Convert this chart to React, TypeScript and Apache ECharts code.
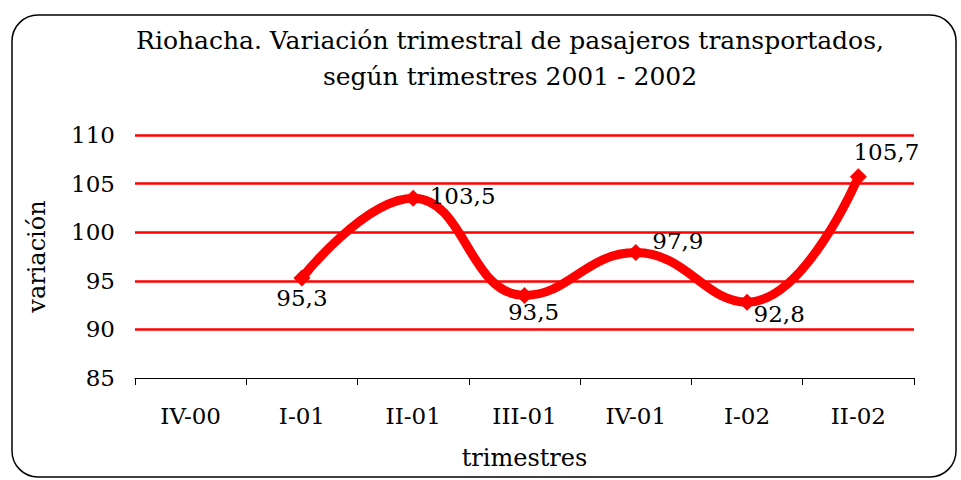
import React, { useEffect, useRef } from "react";
import * as echarts from "echarts";

const categories = ["IV-00", "I-01", "II-01", "III-01", "IV-01", "I-02", "II-02"];
const values: (number | null)[] = [null, 95.3, 103.5, 93.5, 97.9, 92.8, 105.7];
const labelPositions = ["bottom", "bottom", "right", "bottom", "right", "right", "top"];
const labelOffsets: number[][] = [[0, 0], [0, -4], [4, -2], [9, -7], [4, -12], [-6, 12], [28, -1]];
const yTicks = { min: 85, max: 110, interval: 5 };

const FONT = "'DejaVu Serif', serif";

export default function App() {
  const ref = useRef<HTMLDivElement>(null);
  useEffect(() => {
    if (!ref.current) return;
    const chart = echarts.init(ref.current, undefined, { renderer: "svg" });
    chart.setOption({
      animation: false,
      backgroundColor: "#ffffff",
      graphic: [
        {
          type: "rect",
          shape: { x: 12, y: 15, width: 944, height: 462, r: 26 },
          style: { fill: "none", stroke: "#000", lineWidth: 1.5 },
          silent: true,
        },
      ],
      title: {
        text: "Riohacha. Variación trimestral de pasajeros transportados,\nsegún trimestres 2001 - 2002",
        left: 505,
        textAlign: "center",
        top: 17,
        textStyle: { fontFamily: FONT, fontWeight: "normal", fontSize: 25, color: "#000", lineHeight: 36 },
      },
      grid: { left: 135, right: 47, top: 135, bottom: 102 },
      xAxis: {
        type: "category",
        data: categories,
        boundaryGap: true,
        name: "trimestres",
        nameLocation: "middle",
        nameGap: 68,
        nameTextStyle: { fontFamily: FONT, fontSize: 24, color: "#000" },
        axisLine: { lineStyle: { color: "#000", width: 1 } },
        axisTick: { show: true, length: 7, lineStyle: { color: "#000" } },
        axisLabel: { fontFamily: FONT, fontSize: 23, color: "#000", margin: 26 },
        splitLine: { show: false },
      },
      yAxis: {
        type: "value",
        min: yTicks.min,
        max: yTicks.max,
        interval: yTicks.interval,
        name: "variación",
        nameLocation: "middle",
        nameGap: 86,
        nameTextStyle: { fontFamily: FONT, fontSize: 24, color: "#000" },
        axisLine: { show: false },
        axisTick: { show: false },
        axisLabel: { fontFamily: FONT, fontSize: 23, color: "#000", margin: 20 },
        splitLine: {
          show: true,
          lineStyle: { color: ["transparent", "#ff0000", "#ff0000", "#ff0000", "#ff0000", "#ff0000"], width: 2.5 },
        },
      },
      series: [
        {
          type: "line",
          smooth: 0.45,
          connectNulls: false,
          data: values.map((v, i) => ({
            value: v,
            label: {
              show: v !== null,
              position: labelPositions[i],
              offset: labelOffsets[i],
              formatter: (p: any) => String(p.value).replace(".", ","),
              fontFamily: FONT,
              fontSize: 23,
              color: "#000",
              distance: 4,
            },
          })),
          symbol: "diamond",
          symbolSize: 17,
          showSymbol: true,
          lineStyle: { color: "#ff0000", width: 9 },
          itemStyle: { color: "#ff0000" },
        },
      ],
    });
    return () => chart.dispose();
  }, []);
  return <div ref={ref} style={{ width: 961, height: 480, position: "absolute", left: 0, top: 0 }} />;
}
